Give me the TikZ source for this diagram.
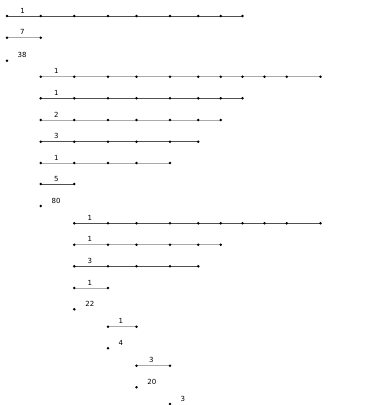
\documentclass[tikz,border=0pt]{standalone}
\usepackage{fontspec}
\setmainfont{DejaVu Sans}
\definecolor{tmdark}{RGB}{80,80,80}
\definecolor{tmlight}{RGB}{170,170,170}

\begin{document}
\begin{tikzpicture}[x=1pt,y=-1pt,line width=1pt,
    every node/.style={font=\fontsize{7}{8}\selectfont,inner sep=0pt,anchor=base west}]
  \useasboundingbox (0,0) rectangle (386,405);
  \foreach \yy/\a/\b/\dx/\t/\c [count=\r] in {
      16/0/8/12.8/1/tmdark, 37.7/0/1/12.5/7/tmlight, 60.7/0/0/10.2/38/tmdark,
      76.7/1/11/12.8/1/tmlight, 98.3/1/8/12.8/1/tmdark, 120/1/7/12.8/2/tmlight,
      141.7/1/6/12.8/3/tmdark, 163/1/5/12.8/1/tmlight, 184/1/2/13/5/tmdark,
      206/1/1/10.5/80/tmdark, 223.3/2/11/12.8/1/tmdark, 244.7/2/7/12.8/1/tmlight,
      266.3/2/6/12.8/3/tmdark, 288/2/3/12.8/1/tmlight, 309.3/2/2/10.5/22/tmdark,
      326.7/3/4/10/1/tmlight, 348.3/3/3/10.2/4/tmdark, 365.7/4/5/12/3/tmlight,
      387.3/4/4/10.3/20/tmdark, 404/5/5/10.2/3/tmdark}{
    \foreach \k in {\a,...,\b}{
      \pgfmathsetmacro\xk{{7,40.7,74.3,108,136.5,170,198.3,220.7,242.5,264.5,286.7,320.5}[\k]}
      \coordinate (r\r-\k) at (\xk,\yy);
    }
    \draw[\c] (r\r-\a) -- (r\r-\b);
    \foreach \k in {\a,...,\b}
      \fill (r\r-\k) circle (1.4pt);
    \node (t\r) at ([xshift=\dx pt,yshift=3pt]r\r-\a) {\t};
  }
\end{tikzpicture}
\end{document}
